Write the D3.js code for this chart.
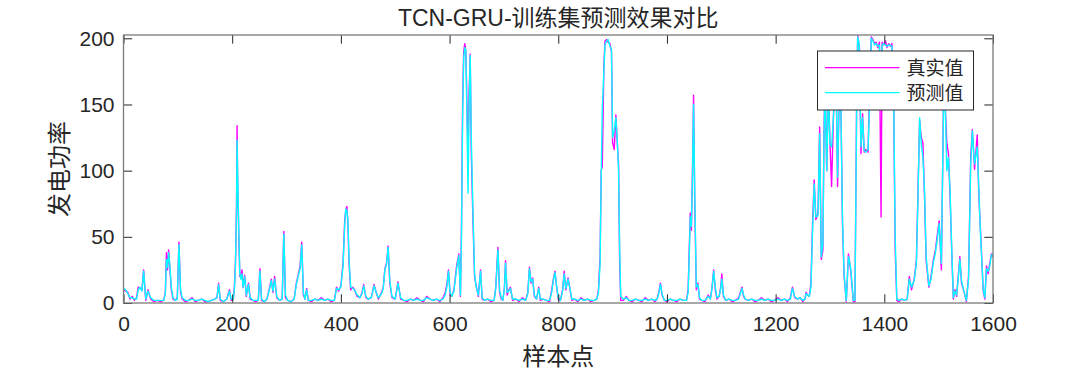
<!DOCTYPE html>
<html>
<head>
<meta charset="utf-8">
<script src="https://cdn.jsdelivr.net/npm/d3@7"></script>
<style>
  body { margin: 0; background: #fff; }
  text { font-family: "Liberation Sans", Arial, "Noto Sans CJK SC", sans-serif; fill: #262626; }
  .cjk { font-family: "Noto Sans CJK SC", sans-serif; }
</style>
</head>
<body>
<svg id="chart"></svg>
<script>
// sample index of each reading (training set, 0..1600)
const sampleIdx = [
  0, 4, 8, 12, 16, 20, 24, 27, 30, 34,
  37, 41, 45, 50, 56, 62, 68, 74, 77, 79,
  81, 83, 85, 88, 91, 95, 99, 102, 105, 108,
  114, 120, 126, 132, 138, 144, 150, 156, 162, 168,
  172, 175, 178, 184, 190, 195, 198, 202, 204, 206,
  208, 209, 210, 212, 214, 216, 218, 220, 223, 226,
  230, 233, 238, 243, 248, 251, 254, 259, 264, 269,
  272, 275, 278, 282, 287, 292, 295, 298, 302, 308,
  314, 318, 322, 325, 328, 331, 334, 337, 340, 346,
  352, 358, 364, 370, 376, 382, 388, 392, 396, 400,
  404, 407, 409, 411, 413, 415, 418, 422, 425, 430,
  435, 439, 442, 446, 450, 456, 461, 465, 469, 475,
  478, 481, 484, 487, 490, 494, 500, 505, 510, 516,
  522, 528, 534, 540, 546, 552, 558, 564, 570, 576,
  582, 588, 592, 595, 598, 601, 604, 608, 613, 617,
  620, 622, 624, 626, 628, 630, 632, 634, 636, 638,
  640, 643, 646, 649, 653, 657, 660, 664, 670, 676,
  682, 685, 689, 692, 695, 698, 701, 703, 706, 709,
  712, 716, 722, 728, 734, 740, 744, 747, 750, 753,
  756, 760, 764, 767, 772, 778, 784, 788, 791, 794,
  797, 800, 804, 808, 811, 814, 818, 821, 825, 830,
  836, 842, 848, 854, 860, 866, 871, 874, 877, 879,
  881, 884, 886, 889, 892, 895, 898, 900, 903, 906,
  909, 911, 913, 915, 920, 925, 930, 936, 942, 948,
  954, 960, 966, 972, 978, 982, 985, 988, 991, 995,
  1000, 1006, 1012, 1018, 1024, 1030, 1036, 1039, 1041, 1043,
  1045, 1047, 1049, 1051, 1054, 1057, 1060, 1064, 1070, 1076,
  1080, 1083, 1086, 1089, 1092, 1096, 1099, 1101, 1104, 1108,
  1114, 1120, 1126, 1132, 1135, 1138, 1141, 1144, 1150, 1156,
  1162, 1168, 1174, 1180, 1186, 1192, 1198, 1204, 1210, 1216,
  1222, 1227, 1231, 1235, 1240, 1245, 1250, 1254, 1256, 1259,
  1262, 1265, 1268, 1271, 1274, 1278, 1281, 1284, 1287, 1289,
  1291, 1294, 1297, 1300, 1303, 1307, 1311, 1314, 1317, 1320,
  1323, 1326, 1330, 1334, 1338, 1343, 1346, 1349, 1351, 1354,
  1357, 1360, 1363, 1366, 1370, 1373, 1376, 1379, 1382, 1385,
  1388, 1391, 1394, 1396, 1399, 1402, 1405, 1408, 1411, 1414,
  1417, 1420, 1423, 1427, 1432, 1437, 1442, 1446, 1450, 1455,
  1459, 1462, 1465, 1468, 1471, 1474, 1477, 1482, 1486, 1490,
  1494, 1498, 1501, 1505, 1509, 1512, 1515, 1518, 1521, 1524,
  1527, 1530, 1533, 1536, 1539, 1542, 1547, 1551, 1555, 1559,
  1562, 1566, 1571, 1574, 1577, 1582, 1585, 1588, 1591, 1594, 1597, 1600
];

// 真实值
const actualPower = [
  10, 9, 8, 3, 5, 2, 4, 12, 11, 10,
  25, 2, 10, 3, 1, 2, 1, 2, 8, 38,
  25, 40, 28, 10, 3, 2, 4, 46, 8, 3,
  1, 2, 4, 1, 2, 3, 1, 1, 2, 3,
  4, 15, 2, 1, 3, 10, 2, 3, 12, 30,
  73, 134, 90, 54, 20, 20, 25, 12, 21, 5,
  15, 3, 2, 1, 2, 26, 2, 1, 3, 12,
  18, 8, 20, 4, 2, 3, 54, 4, 2, 1,
  3, 15, 22, 28, 46, 6, 3, 11, 2, 1,
  3, 2, 4, 2, 3, 1, 2, 12, 9, 13,
  30, 62, 70, 73, 60, 30, 10, 12, 10, 5,
  4, 8, 14, 4, 3, 4, 14, 8, 3, 8,
  12, 26, 30, 43, 15, 4, 3, 16, 3, 2,
  1, 3, 2, 4, 2, 1, 5, 3, 2, 3,
  1, 4, 8, 14, 25, 6, 5, 10, 28, 37,
  5, 60, 150, 190, 196, 190, 150, 113, 160, 188,
  113, 63, 20, 13, 5, 25, 3, 2, 3, 1,
  2, 12, 42, 8, 3, 2, 12, 32, 6, 10,
  12, 2, 3, 1, 4, 2, 8, 27, 15, 19,
  5, 3, 12, 2, 3, 2, 1, 10, 18, 24,
  12, 3, 2, 10, 24, 10, 19, 12, 2, 3,
  1, 4, 2, 3, 1, 2, 3, 10, 35, 100,
  103, 180, 198, 199, 197, 196, 190, 121, 116, 142,
  118, 105, 30, 2, 2, 5, 2, 1, 3, 2,
  1, 4, 2, 3, 1, 3, 8, 15, 6, 2,
  1, 3, 2, 1, 3, 2, 2, 10, 40, 68,
  55, 100, 157, 80, 10, 15, 3, 2, 1, 6,
  3, 12, 25, 10, 3, 5, 12, 22, 5, 2,
  3, 1, 2, 4, 8, 12, 5, 3, 2, 3,
  1, 2, 4, 2, 3, 1, 2, 4, 2, 3,
  1, 4, 12, 4, 3, 4, 1, 3, 8, 6,
  5, 15, 60, 93, 63, 68, 133, 33, 40, 130,
  170, 100, 165, 121, 88, 150, 180, 88, 160, 155,
  60, 20, 1, 37, 25, 1, 1, 150, 202, 194,
  113, 143, 114, 116, 114, 160, 201, 199, 196, 197,
  193, 197, 65, 197, 195, 198, 193, 196, 194, 196,
  160, 40, 2, 1, 3, 2, 3, 20, 10, 18,
  32, 85, 138, 125, 121, 80, 32, 12, 20, 32,
  40, 53, 62, 25, 155, 150, 121, 113, 80, 40,
  3, 10, 5, 20, 35, 15, 8, 1, 20, 110,
  131, 101, 127, 80, 55, 9, 3, 28, 22, 30, 37, 35
];

// 预测值
const predictedPower = [
  11, 10, 7, 4, 4, 3, 3, 10, 12, 9,
  24, 3, 9, 4, 2, 2, 2, 2, 7, 33,
  27, 38, 30, 12, 4, 2, 3, 44, 10, 4,
  2, 2, 3, 2, 2, 3, 2, 1, 2, 3,
  4, 14, 3, 1, 3, 9, 3, 3, 10, 28,
  70, 123, 100, 58, 22, 18, 22, 12, 20, 6,
  14, 4, 2, 2, 2, 24, 3, 1, 3, 11,
  17, 9, 18, 5, 2, 3, 52, 6, 2, 1,
  3, 14, 21, 26, 44, 8, 3, 10, 2, 2,
  3, 2, 3, 2, 3, 2, 2, 11, 10, 12,
  28, 58, 71, 70, 62, 33, 12, 11, 10, 6,
  4, 7, 13, 5, 3, 4, 13, 8, 4, 7,
  11, 25, 29, 42, 17, 5, 3, 15, 4, 2,
  2, 3, 2, 3, 2, 2, 4, 3, 2, 3,
  2, 3, 6, 12, 24, 8, 5, 9, 26, 36,
  6, 50, 140, 185, 193, 191, 140, 83, 150, 187,
  125, 70, 22, 12, 6, 24, 4, 2, 3, 2,
  2, 11, 40, 10, 4, 2, 11, 30, 8, 9,
  11, 3, 3, 2, 3, 2, 7, 26, 16, 18,
  6, 3, 11, 3, 3, 2, 2, 8, 17, 23,
  13, 4, 2, 9, 22, 11, 18, 12, 3, 3,
  2, 3, 2, 3, 2, 2, 3, 8, 30, 95,
  146, 175, 195, 198, 199, 194, 192, 125, 130, 140,
  120, 100, 40, 5, 3, 4, 2, 2, 3, 2,
  2, 3, 2, 3, 2, 3, 7, 14, 7, 2,
  2, 3, 2, 2, 3, 2, 2, 8, 35, 65,
  58, 95, 150, 90, 12, 14, 4, 2, 2, 5,
  3, 11, 24, 12, 4, 5, 11, 18, 6, 2,
  3, 2, 2, 3, 7, 11, 6, 3, 2, 3,
  2, 2, 3, 2, 3, 2, 2, 3, 2, 3,
  2, 3, 11, 5, 3, 4, 2, 3, 7, 6,
  5, 12, 55, 90, 65, 66, 128, 35, 45, 125,
  165, 100, 160, 120, 118, 145, 178, 95, 158, 150,
  65, 22, 2, 35, 27, 2, 2, 140, 201, 195,
  118, 140, 115, 114, 116, 150, 200, 198, 195, 196,
  194, 195, 150, 195, 196, 195, 194, 195, 195, 194,
  165, 50, 3, 2, 3, 2, 3, 18, 12, 17,
  30, 80, 140, 120, 110, 85, 35, 13, 18, 30,
  38, 50, 60, 30, 150, 152, 100, 110, 85, 42,
  4, 9, 6, 18, 33, 17, 8, 2, 18, 105,
  130, 105, 118, 85, 52, 10, 4, 26, 24, 28, 36, 37
];

const xTicks = [0, 200, 400, 600, 800, 1000, 1200, 1400, 1600];
const yTicks = [0, 50, 100, 150, 200];
const seriesNames = ["真实值", "预测值"];
const seriesColors = ["#ff00ff", "#00ffff"];

const width = 1080, height = 371;
const margin = { top: 35, right: 87, bottom: 68, left: 123.5 };
const plotW = width - margin.left - margin.right;
const plotH = height - margin.top - margin.bottom;
const tick = 8.7;

const svg = d3.select("#chart").attr("width", width).attr("height", height);

const x = d3.scaleLinear().domain([0, 1600]).range([0, plotW]);
const y = d3.scaleLinear().domain([0, 202.5]).range([plotH, 0]);

const g = svg.append("g").attr("transform", `translate(${margin.left},${margin.top})`);

g.append("clipPath").attr("id", "clip")
  .append("rect").attr("width", plotW).attr("height", plotH);

// series lines: real first, prediction on top
const line = d3.line().x((d) => x(d[0])).y((d) => y(d[1]));
[actualPower, predictedPower].forEach((vals, i) => {
  g.append("path")
    .datum(sampleIdx.map((s, k) => [s, vals[k]]))
    .attr("clip-path", "url(#clip)")
    .attr("fill", "none")
    .attr("stroke", seriesColors[i])
    .attr("stroke-width", 1.4)
    .attr("stroke-linejoin", "round")
    .attr("d", line);
});

// axes, ticks pointing inwards like matlab
const styleAxis = (sel) => {
  sel.select(".domain").remove();
  sel.selectAll("line").attr("stroke", "#262626").attr("stroke-width", 1);
  sel.selectAll("text").style("font-size", "21px").attr("fill", "#262626");
};

g.append("g").attr("transform", `translate(0,${plotH})`)
  .call(d3.axisBottom(x).tickValues(xTicks).tickFormat(d3.format("d")).tickSize(-tick).tickPadding(13))
  .call(styleAxis);
g.append("g")
  .call(d3.axisTop(x).tickValues(xTicks).tickSize(-tick).tickFormat(""))
  .call(styleAxis);
g.append("g")
  .call(d3.axisLeft(y).tickValues(yTicks).tickFormat(d3.format("d")).tickSize(-tick).tickPadding(9))
  .call(styleAxis);
g.append("g").attr("transform", `translate(${plotW},0)`)
  .call(d3.axisRight(y).tickValues(yTicks).tickSize(-tick).tickFormat(""))
  .call(styleAxis);

// box
g.append("rect")
  .attr("width", plotW).attr("height", plotH)
  .attr("fill", "none").attr("stroke", "#7a7a7a").attr("stroke-width", 1.3);

// titles
svg.append("text")
  .attr("x", margin.left + plotW / 2).attr("y", 26)
  .attr("text-anchor", "middle")
  .style("font-size", "23px")
  .text("TCN-GRU-训练集预测效果对比");

svg.append("text").attr("class", "cjk")
  .attr("x", margin.left + plotW / 2).attr("y", 365)
  .attr("text-anchor", "middle")
  .style("font-size", "24px")
  .text("样本点");

svg.append("text").attr("class", "cjk")
  .attr("transform", `translate(68,${margin.top + plotH / 2}) rotate(-90)`)
  .attr("text-anchor", "middle")
  .style("font-size", "24px")
  .text("发电功率");

// legend
const lg = svg.append("g").attr("transform", "translate(817.5,51)");
lg.append("rect").attr("width", 156).attr("height", 59)
  .attr("fill", "#fff").attr("stroke", "#262626").attr("stroke-width", 1);
seriesNames.forEach((name, i) => {
  const ly = 16.7 + i * 25;
  lg.append("line").attr("x1", 7.5).attr("x2", 82).attr("y1", ly).attr("y2", ly)
    .attr("stroke", seriesColors[i]).attr("stroke-width", 1.3);
  lg.append("text").attr("class", "cjk")
    .attr("x", 89).attr("y", ly + 7)
    .style("font-size", "19px")
    .text(name);
});
</script>
</body>
</html>
